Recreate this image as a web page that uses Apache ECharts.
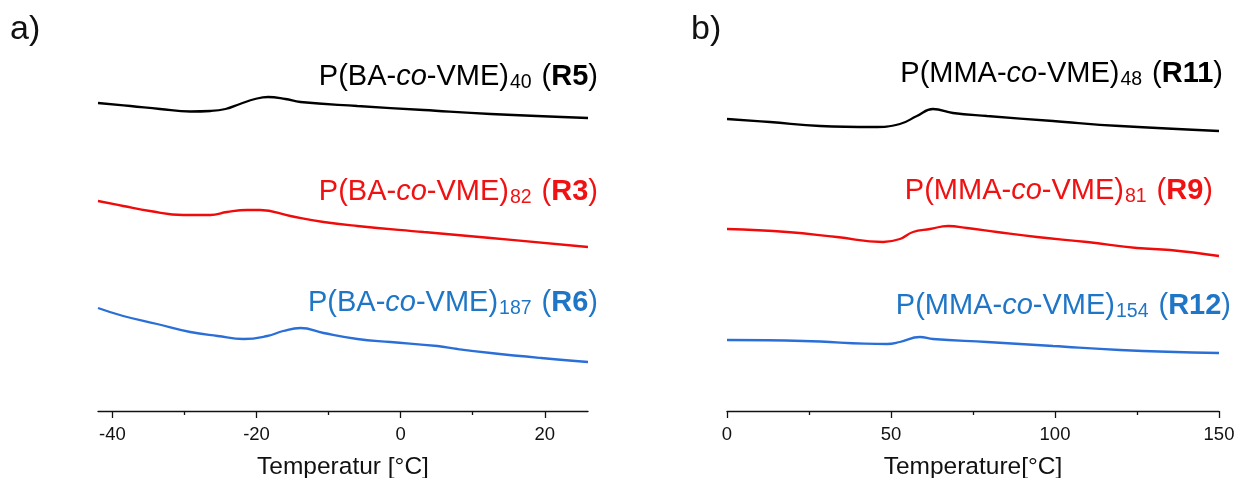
<!DOCTYPE html>
<html>
<head>
<meta charset="utf-8">
<title>DSC traces of P(BA-co-VME) and P(MMA-co-VME)</title>
<script src="https://cdn.jsdelivr.net/npm/echarts@6/dist/echarts.min.js"></script>
<style>
  html, body { margin: 0; padding: 0; background: #fff; }
  #chart { width: 1235px; height: 478px; }
</style>
</head>
<body>
<div id="chart"></div>
<script>
// ---- data: [temperature °C, heat flow (offset, arbitrary units)] ----
const baR5 = [[-42, 30.8], [-37.5, 30.5], [-33.4, 30.2], [-29.2, 29.95], [-26.4, 30.0], [-24.3, 30.2],
  [-22.3, 30.7], [-20.2, 31.2], [-18.4, 31.4], [-16.0, 31.2], [-13.9, 30.9], [-6.0, 30.5],
  [3.2, 30.1], [12.5, 29.7], [26.0, 29.3]];
const baR3 = [[-42, 21.0], [-38.5, 20.5], [-34.8, 20.0], [-30.2, 19.6], [-26.4, 19.6], [-24.1, 19.9],
  [-21.3, 20.1], [-19.5, 20.1], [-15.3, 19.5], [-10.7, 18.9], [-6.0, 18.5], [3.2, 17.9],
  [12.5, 17.3], [26.0, 16.4]];
const baR6 = [[-42, 10.3], [-38.5, 9.5], [-33.8, 8.7], [-29.2, 7.9], [-25.4, 7.5], [-21.8, 7.2],
  [-18.5, 7.5], [-16.3, 8.0], [-13.9, 8.3], [-10.7, 7.8], [-6.0, 7.2], [-1.4, 6.9], [5.1, 6.5],
  [7.9, 6.2], [12.5, 5.8], [19.5, 5.3], [26.0, 4.9]];

const mmaR11 = [[0, 29.2], [13.1, 28.9], [28.4, 28.5], [44.5, 28.4], [52.7, 28.7], [57.9, 29.5],
  [62.8, 30.2], [68.9, 29.8], [79.3, 29.5], [99.4, 29.0], [119.8, 28.5], [150, 28.0]];
const mmaR9 = [[0, 18.2], [18.3, 17.9], [33.5, 17.4], [47.6, 16.9], [52.7, 17.2], [56.7, 17.9],
  [61.9, 18.2], [67.4, 18.5], [73.2, 18.3], [82.3, 17.9], [94.5, 17.4], [109.8, 16.9],
  [125.0, 16.3], [135.1, 16.1], [150, 15.5]];
const mmaR12 = [[0, 7.1], [23.2, 7.0], [48.8, 6.7], [52.7, 6.9], [58.8, 7.4], [62.8, 7.2],
  [79.3, 6.9], [99.4, 6.5], [119.8, 6.1], [150, 5.8]];

// axis ranges and tick labels
const rangeA = [-42, 26];
const majorTicksA = [-40, -20, 0, 20];
const minorTicksA = [-30, -10, 10];
const rangeB = [0, 150];
const majorTicksB = [0, 50, 100, 150];
const minorTicksB = [25, 75, 125];
const axisNameA = 'Temperatur [°C]';
const axisNameB = 'Temperature[°C]';

// trace labels: [prefix, italic part, middle, subscript, bold sample id]
const labelsA = [
  ['P(BA-', 'co', '-VME)', '40', 'R5'],
  ['P(BA-', 'co', '-VME)', '82', 'R3'],
  ['P(BA-', 'co', '-VME)', '187', 'R6']
];
const labelsB = [
  ['P(MMA-', 'co', '-VME)', '48', 'R11'],
  ['P(MMA-', 'co', '-VME)', '81', 'R9'],
  ['P(MMA-', 'co', '-VME)', '154', 'R12']
];

const FONT = '"Liberation Sans", Arial, Helvetica, sans-serif';
const lineColors = ['#000000', '#f00a0a', '#2a6fd8'];
const textColors = ['#000000', '#f01212', '#1f76c6'];

const chart = echarts.init(document.getElementById('chart'), null, { renderer: 'canvas' });

function xAxisPair(gridIndex, range, major, minor, name) {
  return [{
    type: 'value', gridIndex, position: 'bottom', min: range[0], max: range[1],
    name, nameLocation: 'middle', nameGap: 44,
    nameTextStyle: { fontFamily: FONT, fontSize: 24.5, color: '#111' },
    axisLine: { show: true, onZero: false, lineStyle: { color: '#111', width: 1.3 } },
    axisTick: { show: true, inside: false, length: 7, customValues: major, lineStyle: { color: '#111', width: 1.3 } },
    axisLabel: { show: true, customValues: major, margin: 14, fontFamily: FONT, fontSize: 18.5, color: '#111' },
    splitLine: { show: false }
  }, {
    type: 'value', gridIndex, position: 'bottom', min: range[0], max: range[1],
    axisLine: { show: false, onZero: false },
    axisTick: { show: true, inside: false, length: 4, customValues: minor, lineStyle: { color: '#111', width: 1.3 } },
    axisLabel: { show: false },
    splitLine: { show: false }
  }];
}

function yAxis(gridIndex) {
  return { type: 'value', gridIndex, min: 0, max: 36.9, show: false, splitLine: { show: false } };
}

function line(data, color, xAxisIndex, yAxisIndex) {
  return {
    type: 'line', data, xAxisIndex, yAxisIndex,
    showSymbol: false, smooth: 0.45,
    lineStyle: { color, width: 2.3 }, silent: true, animation: false
  };
}

function richLabel(parts, color, right, y) {
  const [pre, ital, mid, sub, id] = parts;
  return {
    type: 'text', right, top: y, silent: true,
    style: {
      text: '{m|' + pre + '}{i|' + ital + '}{m|' + mid + '}{s|' + sub + '}{g| }{m|(}{b|' + id + '}{m|)}',
      fill: color,
      rich: {
        m: { fontFamily: FONT, fontSize: 29, lineHeight: 33, fill: color },
        i: { fontFamily: FONT, fontSize: 29, lineHeight: 33, fontStyle: 'italic', fill: color },
        b: { fontFamily: FONT, fontSize: 29, lineHeight: 33, fontWeight: 'bold', fill: color },
        g: { fontFamily: FONT, fontSize: 29, lineHeight: 33, fill: color, width: 10 },
        s: { fontFamily: FONT, fontSize: 19.5, lineHeight: 16, verticalAlign: 'bottom', fill: color, padding: [0, 0, 0, 1] }
      }
    }
  };
}

const labelTopsA = [62, 177, 288];
const labelTopsB = [59, 176, 291];
const labelRightA = 1235 - 598;
const labelRightB = [1235 - 1223, 1235 - 1213, 1235 - 1231];

const option = {
  backgroundColor: '#ffffff',
  animation: false,
  grid: [
    { left: 98, width: 490, top: 42, height: 369, outerBoundsMode: 'none' },
    { left: 727, width: 492, top: 42, height: 369, outerBoundsMode: 'none' }
  ],
  xAxis: [
    ...xAxisPair(0, rangeA, majorTicksA, minorTicksA, axisNameA),
    ...xAxisPair(1, rangeB, majorTicksB, minorTicksB, axisNameB)
  ],
  yAxis: [yAxis(0), yAxis(1)],
  series: [
    line(baR5, lineColors[0], 0, 0),
    line(baR3, lineColors[1], 0, 0),
    line(baR6, lineColors[2], 0, 0),
    line(mmaR11, lineColors[0], 2, 1),
    line(mmaR9, lineColors[1], 2, 1),
    line(mmaR12, lineColors[2], 2, 1)
  ],
  graphic: [
    { type: 'text', left: 10, top: 13, style: { text: 'a)', fontFamily: FONT, fontSize: 34, fill: '#111' } },
    { type: 'text', left: 691, top: 13, style: { text: 'b)', fontFamily: FONT, fontSize: 34, fill: '#111' } },
    ...labelsA.map((p, i) => richLabel(p, textColors[i], labelRightA, labelTopsA[i])),
    ...labelsB.map((p, i) => richLabel(p, textColors[i], labelRightB[i], labelTopsB[i]))
  ]
};

chart.setOption(option);
</script>
</body>
</html>
